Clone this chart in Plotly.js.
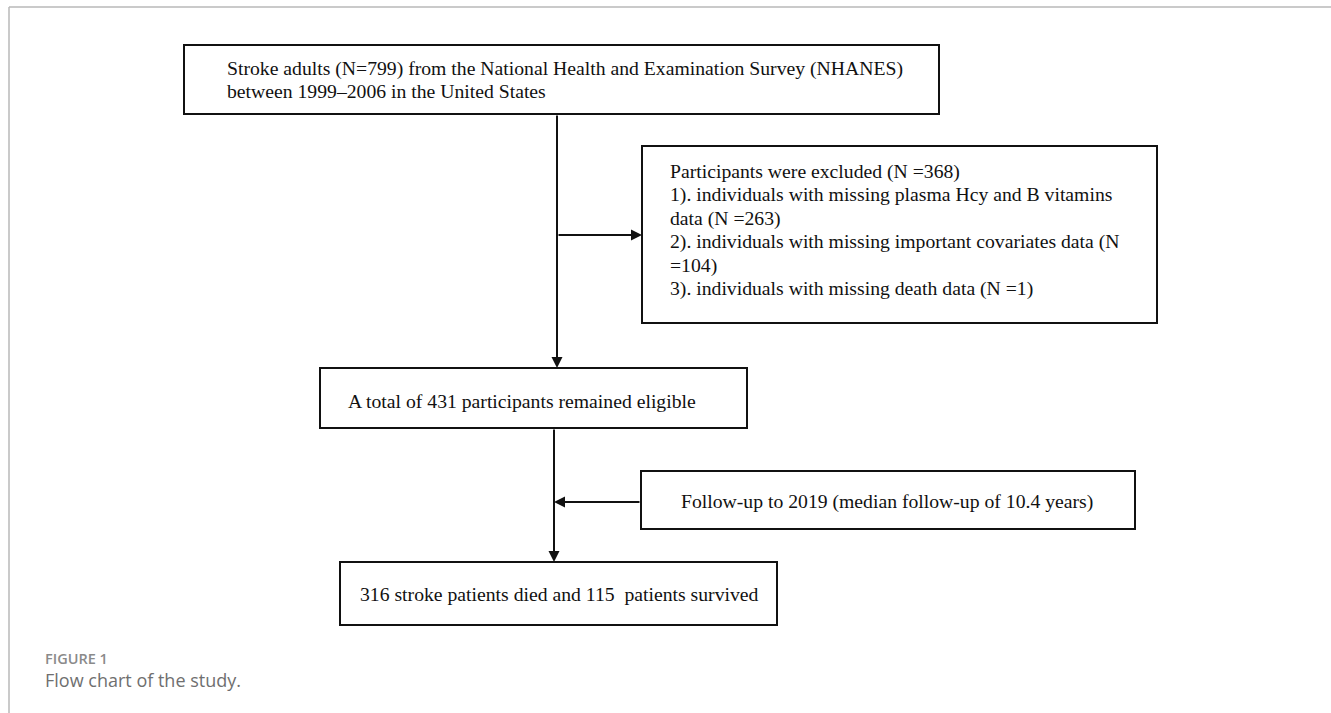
<!DOCTYPE html>
<html>
<head>
<meta charset="utf-8">
<script src="https://cdn.plot.ly/plotly-3.0.1.min.js"></script>
<style>
html,body{margin:0;padding:0;background:#fff;overflow:hidden}
#chart{width:1331px;height:713px}
</style>
</head>
<body>
<div id="chart"></div>
<script>
// ---- data ----
const totalN = 799;
const surveyPeriod = '1999–2006';
const excludedN = 368;
const exclusionCounts = [263, 104, 1];
const eligibleN = 431;
const followUpYear = 2019;
const medianFollowUpYears = 10.4;
const diedN = 316;
const survivedN = 115;
const captionLabel = 'FIGURE 1';
const captionText = 'Flow chart of the study.';

// ---- text lines of each box (built from the values) ----
const sourceLines = [
  'Stroke adults (N=' + totalN + ') from the National Health and Examination Survey (NHANES)',
  'between ' + surveyPeriod + ' in the United States'
];
const excludedLines = [
  'Participants were excluded (N =' + excludedN + ')',
  '1). individuals with missing plasma Hcy and B vitamins',
  'data (N =' + exclusionCounts[0] + ')',
  '2). individuals with missing important covariates data (N',
  '=' + exclusionCounts[1] + ')',
  '3). individuals with missing death data (N =' + exclusionCounts[2] + ')'
];
const eligibleLines = ['A total of ' + eligibleN + ' participants remained eligible'];
const followUpLines = ['Follow-up to ' + followUpYear + ' (median follow-up of ' + medianFollowUpYears + ' years)'];
const outcomeLines = [diedN + ' stroke patients died and ' + survivedN + ' \u00a0patients survived'];

// ---- layout geometry (pixel coordinates on a 1331x713 canvas) ----
const geom = {
  source:   {x0:184, x1:939,  y0:45,  y1:114, tx:225, ty:[68, 91], lines: sourceLines},
  excluded: {x0:642, x1:1157, y0:146, y1:323, tx:668, ty:[171, 194.5, 218, 241.5, 265, 288.5], lines: excludedLines},
  eligible: {x0:320, x1:747,  y0:368, y1:428, tx:346, ty:[401], lines: eligibleLines},
  followUp: {x0:641, x1:1135, y0:471, y1:529, tx:679, ty:[501], lines: followUpLines},
  outcome:  {x0:340, x1:777,  y0:562, y1:625, tx:358, ty:[594], lines: outcomeLines}
};
const arrows = [
  {from:[557,114], to:[557,368]},
  {from:[557,235], to:[642,235]},
  {from:[554,428], to:[554,562]},
  {from:[641,502], to:[554,502]}
];

const serif = 'Liberation Serif, Times New Roman, serif';
const ink = '#111111';
const shapes = [];
const annotations = [];

// outer frame
shapes.push({type:'line', xref:'x', yref:'y', x0:9, y0:7, x1:1331, y1:7, line:{color:'#b8b8b8', width:1.5}});
shapes.push({type:'line', xref:'x', yref:'y', x0:9, y0:7, x1:9, y1:713, line:{color:'#b8b8b8', width:1.5}});

Object.values(geom).forEach(b => {
  shapes.push({type:'rect', xref:'x', yref:'y', x0:b.x0, x1:b.x1, y0:b.y0, y1:b.y1,
    line:{color:ink, width:2}, fillcolor:'rgba(0,0,0,0)'});
  b.lines.forEach((t, i) => {
    annotations.push({x:b.tx, y:b.ty[i], xref:'x', yref:'y', text:t, showarrow:false,
      xanchor:'left', yanchor:'middle', font:{family:serif, size:19.7, color:ink}});
  });
});

arrows.forEach(a => {
  annotations.push({x:a.to[0], y:a.to[1], ax:a.from[0], ay:a.from[1], xref:'x', yref:'y',
    axref:'x', ayref:'y', text:'', showarrow:true, arrowhead:2, arrowsize:1.1, arrowwidth:2,
    arrowcolor:ink, standoff:0, startstandoff:0});
});

// caption
annotations.push({x:43, y:658, xref:'x', yref:'y', text:captionLabel, showarrow:false,
  xanchor:'left', yanchor:'middle', font:{family:'Open Sans, sans-serif', size:14.5, color:'#8a8a8a', weight:600}});
annotations.push({x:43, y:680, xref:'x', yref:'y', text:captionText, showarrow:false,
  xanchor:'left', yanchor:'middle', font:{family:'Open Sans, sans-serif', size:18, color:'#6f6f6f'}});

const layout = {
  width:1331, height:713,
  margin:{l:0, r:0, t:0, b:0},
  paper_bgcolor:'#ffffff', plot_bgcolor:'#ffffff',
  showlegend:false,
  xaxis:{range:[0,1331], visible:false, fixedrange:true},
  yaxis:{range:[713,0], visible:false, fixedrange:true},
  shapes: shapes,
  annotations: annotations
};

Plotly.newPlot('chart', [], layout, {staticPlot:true, displayModeBar:false});
</script>
</body>
</html>
